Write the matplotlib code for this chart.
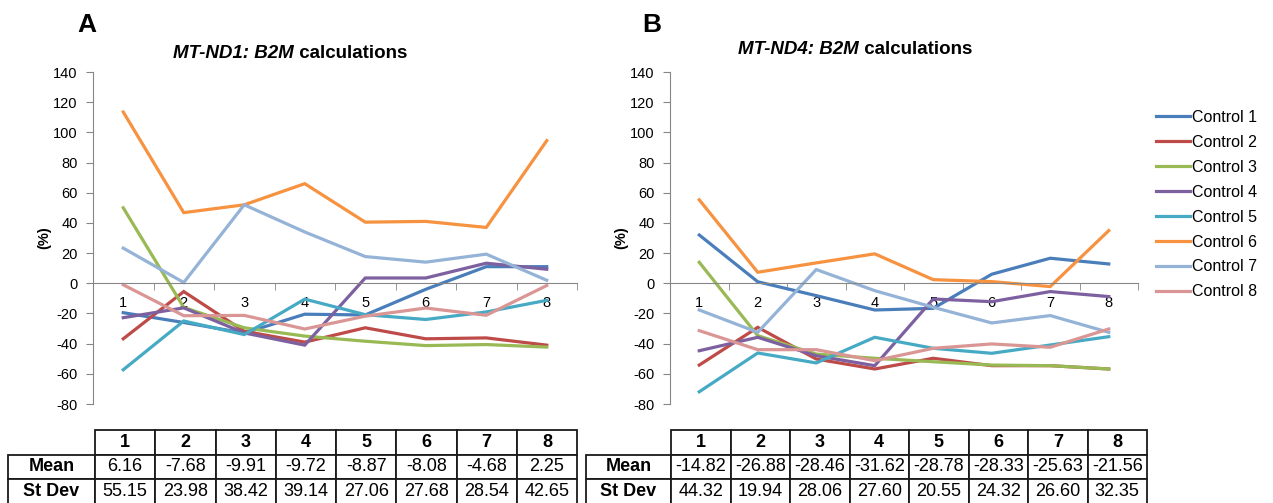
import matplotlib.pyplot as plt
from matplotlib.ticker import FixedLocator, MultipleLocator

plt.rcParams['font.family'] = ['Liberation Sans', 'DejaVu Sans']
plt.rcParams['axes.unicode_minus'] = False

# Puntos de medida y series de control
puntos = [1, 2, 3, 4, 5, 6, 7, 8]
controles = ['Control 1', 'Control 2', 'Control 3', 'Control 4',
             'Control 5', 'Control 6', 'Control 7', 'Control 8']
colores = ['#4A7EBB', '#BE4B48', '#98B954', '#7D60A0',
           '#46AAC5', '#F69240', '#95B3D7', '#D99694']

# MT-ND1: B2M (%)
nd1_series = [
    [-19.5, -26.0, -33.0, -20.5, -21.0, -4.0, 11.0, 11.0],
    [-36.8, -5.5, -31.8, -39.0, -29.5, -36.8, -36.2, -41.0],
    [50.0, -16.0, -29.5, -35.0, -38.4, -41.3, -40.6, -42.3],
    [-22.8, -16.3, -32.9, -41.0, 3.5, 3.5, 13.3, 9.3],
    [-57.3, -25.0, -34.0, -10.5, -20.8, -24.0, -19.0, -11.3],
    [113.5, 46.8, 52.0, 66.0, 40.5, 41.0, 37.0, 94.5],
    [23.3, 0.5, 52.0, 34.0, 17.7, 14.0, 19.3, 2.0],
    [-1.0, -21.5, -21.3, -30.3, -21.8, -16.4, -21.2, -1.5],
]
nd1_media = [6.16, -7.68, -9.91, -9.72, -8.87, -8.08, -4.68, 2.25]
nd1_desv = [55.15, 23.98, 38.42, 39.14, 27.06, 27.68, 28.54, 42.65]

# MT-ND4: B2M (%)
nd4_series = [
    [32.0, 1.0, -8.2, -17.7, -16.6, 6.0, 16.6, 12.8],
    [-54.2, -29.2, -50.2, -56.8, -49.7, -54.6, -54.6, -56.8],
    [13.9, -34.7, -46.9, -49.7, -52.0, -54.2, -54.6, -56.8],
    [-44.7, -35.8, -48.0, -54.6, -10.4, -12.2, -5.5, -8.8],
    [-71.9, -46.2, -52.8, -35.8, -43.1, -46.4, -40.9, -35.4],
    [55.3, 7.3, 13.5, 19.5, 2.4, 1.1, -2.2, 34.9],
    [-17.7, -32.5, 9.1, -4.9, -15.9, -26.3, -21.4, -32.5],
    [-31.4, -44.0, -44.0, -51.3, -43.1, -40.2, -42.4, -30.3],
]
nd4_media = [-14.82, -26.88, -28.46, -31.62, -28.78, -28.33, -25.63, -21.56]
nd4_desv = [44.32, 19.94, 28.06, 27.60, 20.55, 24.32, 26.60, 32.35]

W, H = 1273, 503
fig = plt.figure(figsize=(W / 100, H / 100), dpi=100)
gris = '#868686'


def px(x0, y0, x1, y1):
    # rectangulo en pixeles (origen arriba a la izquierda) -> coords de figura
    return [x0 / W, 1 - y1 / H, (x1 - x0) / W, (y1 - y0) / H]


def grafico(rect, series):
    ax = fig.add_axes(rect)
    for vals, col, nom in zip(series, colores, controles):
        ax.plot(puntos, vals, color=col, lw=2.3, label=nom,
                solid_joinstyle='miter')
    ax.set_xlim(0.5, 8.5)
    ax.set_ylim(-80, 140)
    ax.yaxis.set_major_locator(MultipleLocator(20))
    for s in ['top', 'right']:
        ax.spines[s].set_visible(False)
    ax.spines['left'].set_color(gris)
    ax.spines['bottom'].set_color(gris)
    ax.spines['bottom'].set_position(('data', 0))
    ax.set_xticks(puntos)
    ax.xaxis.set_minor_locator(FixedLocator([1.5, 2.5, 3.5, 4.5, 5.5, 6.5, 7.5, 8.5]))
    ax.tick_params(axis='x', which='major', length=0, pad=9, labelsize=10.5)
    ax.tick_params(axis='x', which='minor', length=5, color=gris, direction='out')
    ax.tick_params(axis='y', length=5, color=gris, labelsize=10.5, pad=6)
    ax.set_ylabel('(%)', fontweight='bold', fontsize=10.5, labelpad=1)
    ax.patch.set_alpha(0)
    return ax


def tabla(rect_lbl, rect_datos, media, desv):
    x0, y0, x1, y1 = rect_lbl[0], rect_lbl[1], rect_datos[1], rect_lbl[2]
    ax = fig.add_axes(px(x0, y0, x1, y1))
    ax.axis('off')
    filas = [[''] + [str(p) for p in puntos],
             ['Mean'] + ['%.2f' % v for v in media],
             ['St Dev'] + ['%.2f' % v for v in desv]]
    ancho_lbl = rect_datos[0] - x0
    ancho_col = (x1 - rect_datos[0]) / 8
    anchos = [ancho_lbl / (x1 - x0)] + [ancho_col / (x1 - x0)] * 8
    t = ax.table(cellText=filas, colWidths=anchos, bbox=[0, 0, 1, 1],
                 cellLoc='center')
    t.auto_set_font_size(False)
    for (r, c), cell in t.get_celld().items():
        cell.set_edgecolor('#1a1a1a')
        cell.set_linewidth(1.3)
        cell.set_text_props(fontsize=13,
                            fontweight='bold' if (r == 0 or c == 0) else 'normal')
        if r == 0 and c == 0:
            cell.visible_edges = ''
    return ax


ax_a = grafico(px(93, 72, 577, 404), nd1_series)
ax_b = grafico(px(670, 72, 1138, 404), nd4_series)

tabla((8, 430, 504), (95, 577), nd1_media, nd1_desv)
tabla((586, 430, 504), (671, 1147), nd4_media, nd4_desv)

# letras de panel y titulos
fig.text(87 / W, 1 - 25 / H, 'A', fontsize=19, fontweight='bold', ha='center', va='center')
fig.text(652 / W, 1 - 25 / H, 'B', fontsize=19, fontweight='bold', ha='center', va='center')

for x, y, gen in [(173, 53, 'MT-ND1: B2M'), (738, 49, 'MT-ND4: B2M')]:
    t1 = fig.text(x / W, 1 - y / H, gen, fontsize=13.5, fontweight='bold',
                  style='italic', ha='left', va='center')
    fig.add_artist(plt.Annotation(' calculations', xy=(1, 0), xycoords=t1,
                                  va='bottom', ha='left', fontsize=13.5,
                                  fontweight='bold'))

h, l = ax_b.get_legend_handles_labels()
fig.legend(h, l, loc='upper left', bbox_to_anchor=(1156 / W, 1 - 110 / H),
           frameon=False, fontsize=11.5, handlelength=2.1, handletextpad=0.15,
           labelspacing=0.62, borderpad=0, borderaxespad=0)

fig.savefig('out.png', dpi=100)
